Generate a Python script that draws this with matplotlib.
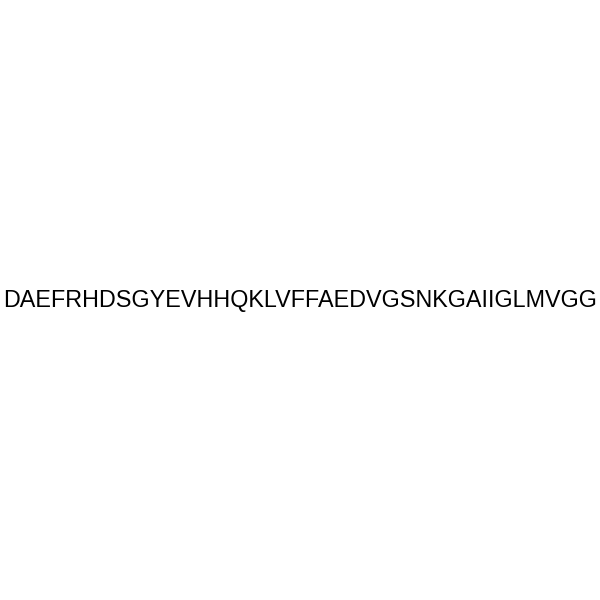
import matplotlib
matplotlib.use("Agg")
from matplotlib import pyplot as plt

# peptide sequence shown in the picture
sequence = "DAEFRHDSGYEVHHQKLVFFAEDVGSNKGAIIGLMVGG"

fig = plt.figure(figsize=(6, 6), dpi=100)
fig.patch.set_facecolor("white")
fig.text(0.5, 0.5, sequence, ha="center", va="center",
         fontsize=16.8, family="Liberation Sans", color="black")
fig.savefig("out.png", dpi=100, facecolor="white")
